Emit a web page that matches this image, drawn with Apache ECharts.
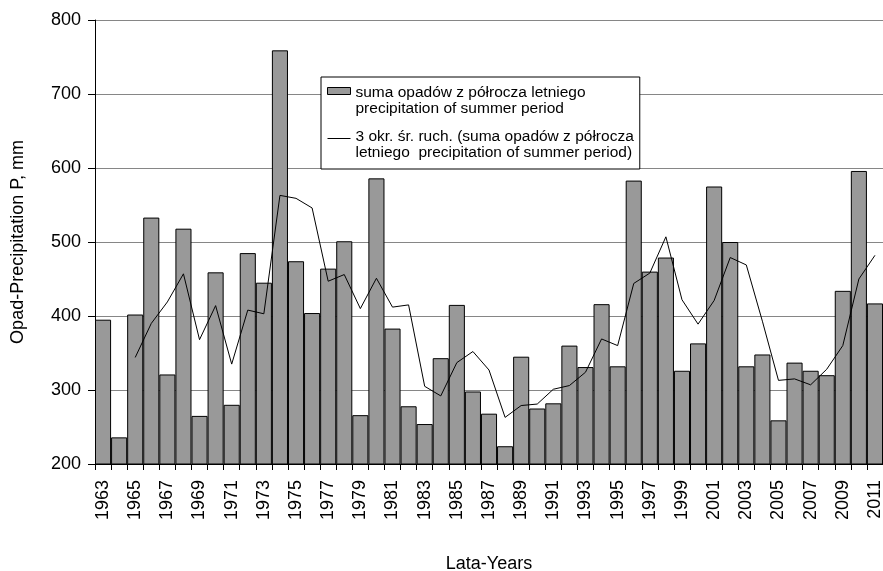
<!DOCTYPE html>
<html>
<head>
<meta charset="utf-8">
<script src="https://cdn.jsdelivr.net/npm/echarts@6/dist/echarts.min.js"></script>
<style>
html,body{margin:0;padding:0;background:#fff;}
#chart{width:883px;height:571px;}
</style>
</head>
<body>
<div id="chart"></div>
<script>
// Data
const years = [1963,1964,1965,1966,1967,1968,1969,1970,1971,1972,1973,1974,1975,1976,1977,1978,1979,1980,
  1981,1982,1983,1984,1985,1986,1987,1988,1989,1990,1991,1992,1993,1994,1995,1996,1997,1998,1999,2000,
  2001,2002,2003,2004,2005,2006,2007,2008,2009,2010,2011];
const precipitation = [395,236,402,533,321,518,265,459,280,485,445,759,474,404,464,501,266,586,
  383,278,254,343,415,298,268,224,345,275,282,360,331,416,332,583,460,479,326,363,
  575,500,332,348,259,337,326,320,434,596,417];
const movingAvg = [null,null,344,390,419,457,368,414,335,408,403,563,559,546,447,456,410,451,
  412,415,305,292,337,352,327,263,279,281,301,306,324,369,360,444,458,507,422,389,
  421,479,469,393,313,315,307,328,360,450,482];
const yTicks = {min:200, max:800, interval:100};

const barName = 'suma opadów z półrocza letniego\nprecipitation of summer period';
const lineName = '3 okr. śr. ruch. (suma opadów z półrocza\nletniego  precipitation of summer period)';
const FONT = "'Liberation Sans', Arial, sans-serif";

const chart = echarts.init(document.getElementById('chart'), null, {renderer:'canvas'});
chart.setOption({
  animation: false,
  backgroundColor: '#ffffff',
  textStyle: {fontFamily: FONT, color: '#000'},
  grid: {left: 95, right: 0, top: 20, bottom: 107, containLabel: false, outerBoundsMode: 'none'},
  legend: {
    left: 321, top: 77,
    orient: 'vertical',
    padding: [7, 6, 8, 6],
    itemGap: 11,
    itemWidth: 23,
    itemHeight: 26,
    backgroundColor: '#ffffff',
    borderColor: '#000000',
    borderWidth: 1,
    selectedMode: false,
    textStyle: {fontFamily: FONT, fontSize: 15.5, lineHeight: 16.5, color: '#000'},
    data: [
      {name: barName, icon: 'path://M0,0L23,0L23,7L0,7Z M0,26L0,26',
       itemStyle: {color: '#999999', borderColor: '#000000', borderWidth: 1}},
      {name: lineName, icon: 'path://M0,0L0,0 M0,7L23,7 M0,26L0,26',
       itemStyle: {color: 'transparent', borderColor: '#000000', borderWidth: 1}}
    ]
  },
  xAxis: {
    type: 'category',
    data: years,
    boundaryGap: true,
    name: 'Lata-Years',
    nameLocation: 'middle',
    nameGap: 91,
    nameTextStyle: {fontFamily: FONT, fontSize: 18, color: '#000'},
    axisLine: {show: true, lineStyle: {color: '#000', width: 1}},
    axisTick: {show: true, interval: 0, length: 6, inside: false, lineStyle: {color: '#000', width: 1}},
    axisLabel: {interval: 1, rotate: 90, margin: 16, fontFamily: FONT, fontSize: 18, color: '#000'},
    splitLine: {show: false}
  },
  yAxis: {
    type: 'value',
    min: yTicks.min, max: yTicks.max, interval: yTicks.interval,
    name: 'Opad-Precipitation P, mm',
    nameLocation: 'middle',
    nameGap: 68,
    nameTextStyle: {fontFamily: FONT, fontSize: 18, color: '#000'},
    axisLine: {show: true, lineStyle: {color: '#000', width: 1}},
    axisTick: {show: true, length: 7, lineStyle: {color: '#000', width: 1}},
    axisLabel: {margin: 14, fontFamily: FONT, fontSize: 18, color: '#000'},
    splitLine: {show: true, lineStyle: {color: '#868686', width: 1}}
  },
  series: [
    {
      name: barName,
      type: 'bar',
      data: precipitation,
      barCategoryGap: '0%',
      itemStyle: {color: '#999999', borderColor: '#000000', borderWidth: 1},
      emphasis: {disabled: true}
    },
    {
      name: lineName,
      type: 'line',
      data: movingAvg,
      symbol: 'none',
      showSymbol: false,
      connectNulls: false,
      z: 5,
      lineStyle: {color: '#000000', width: 1},
      itemStyle: {color: '#000000'},
      emphasis: {disabled: true}
    }
  ]
});
</script>
</body>
</html>
